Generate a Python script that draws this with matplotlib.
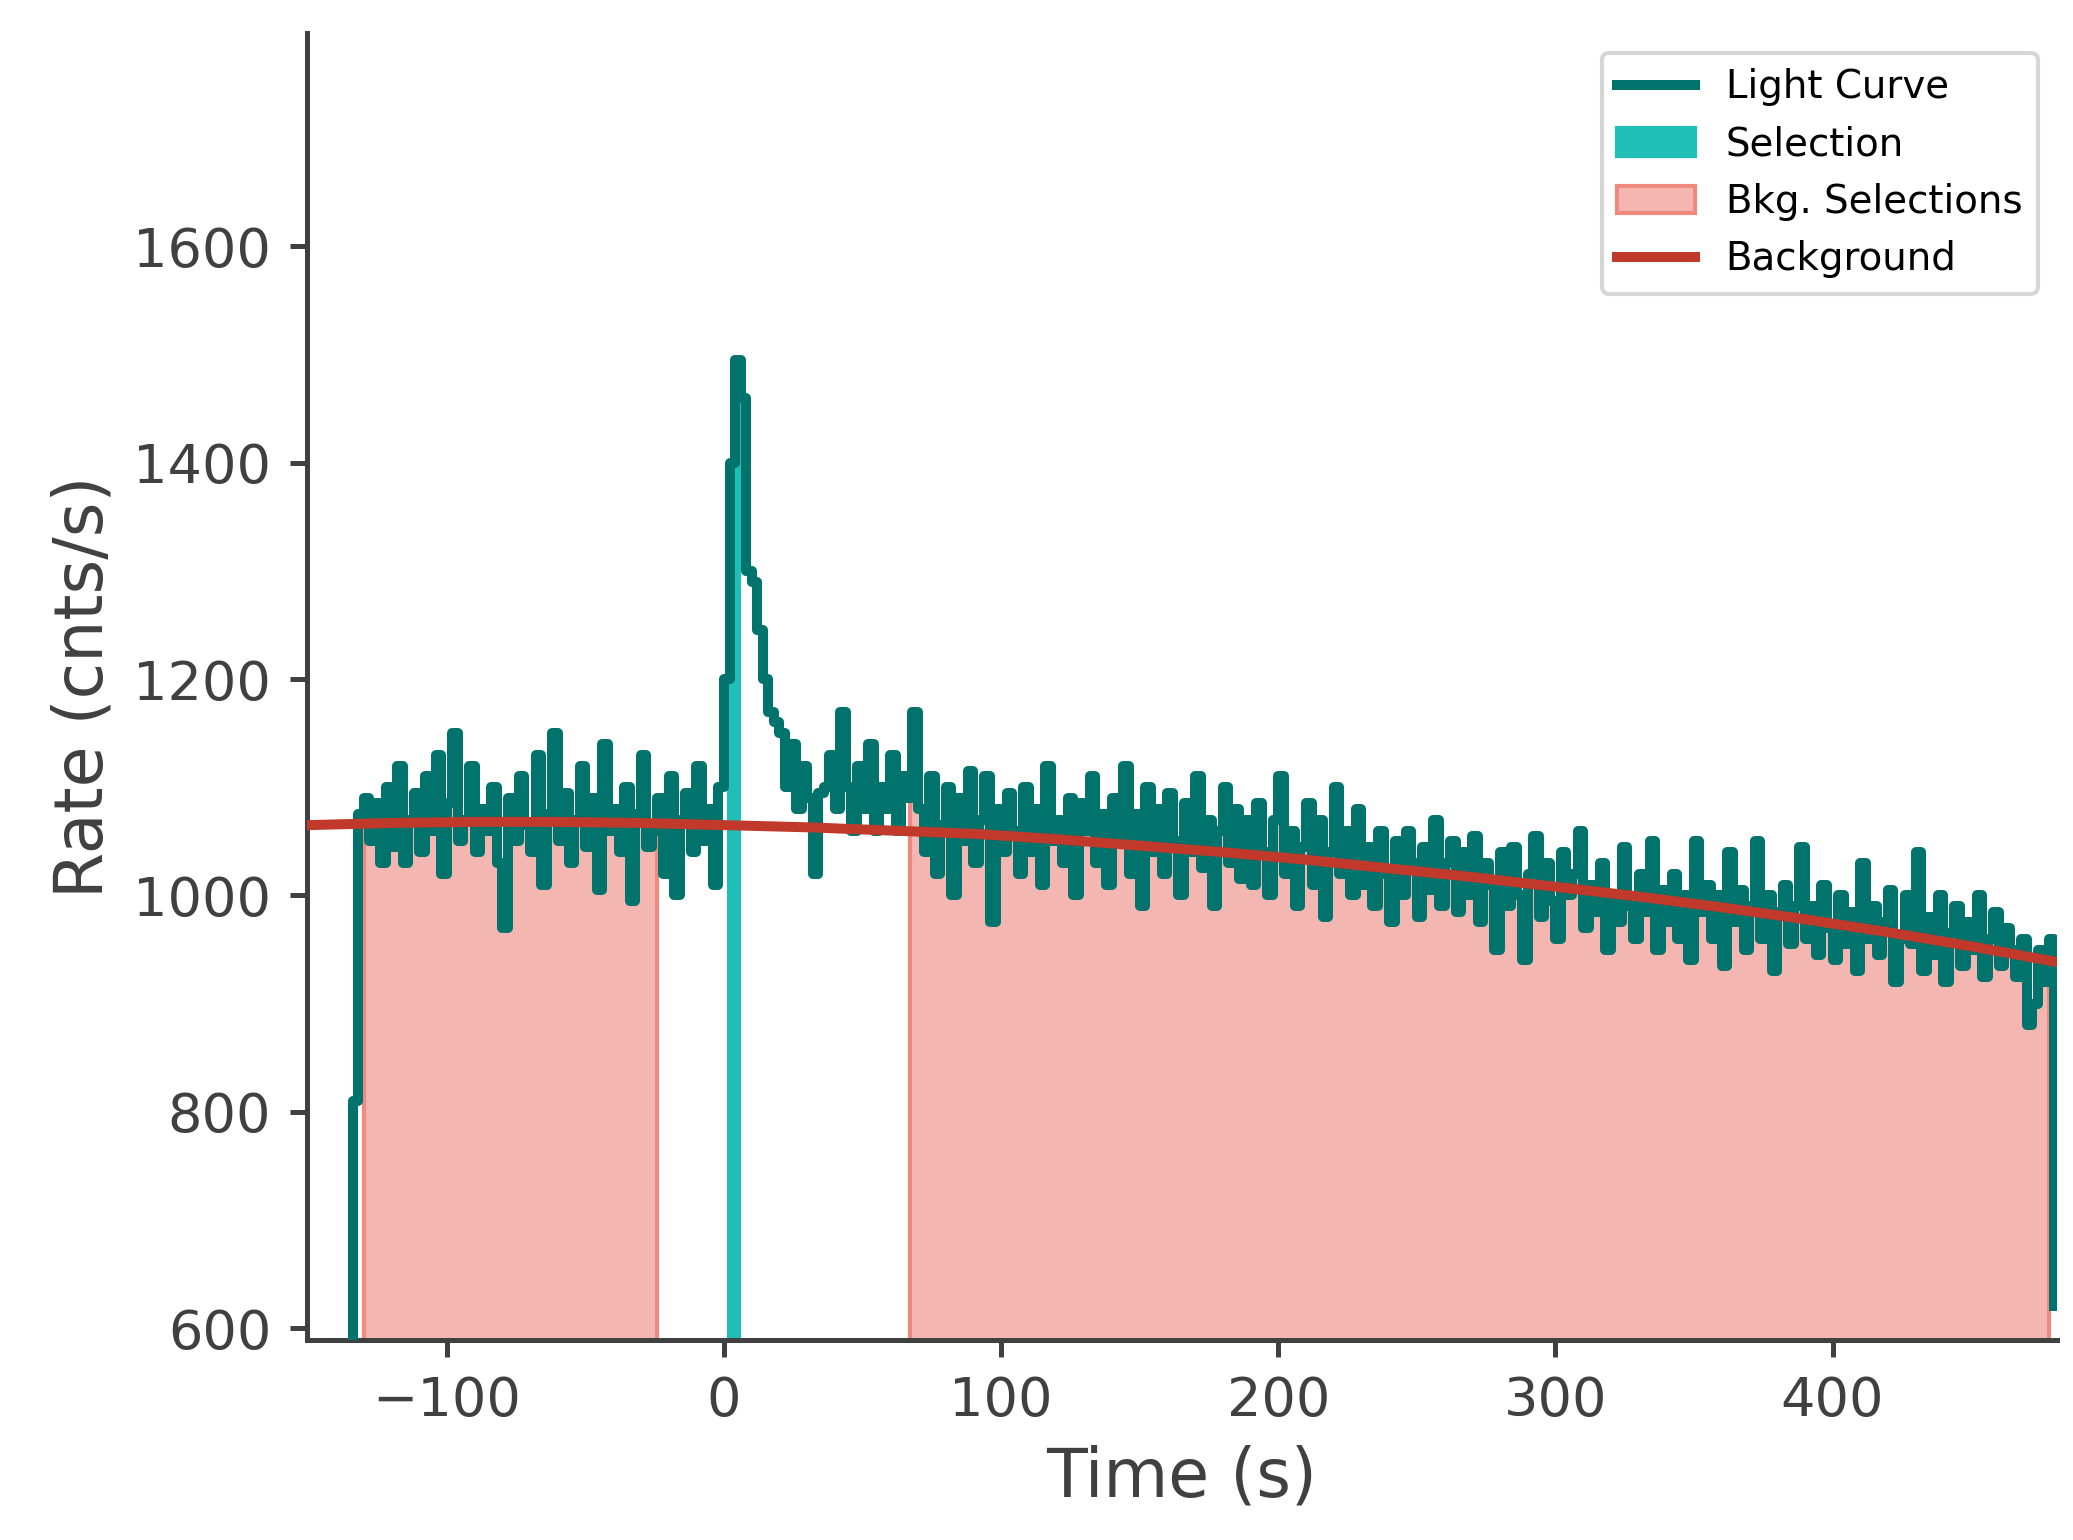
import numpy as np
import matplotlib
matplotlib.use("Agg")
import matplotlib.pyplot as plt

binw = 2.0
pre_start = -134
pre_vals = [570, 810, 1075,
 1090,1050,1085,1030,1100,1045,1120,1030,1070,1095,1040,1110,1060,1130,1020,1085,1150,1050,1070,1120,
 1040,1080,1060,1100,1030,970,1090,1050,1110,1065,1040,1130,1010,1075,1150,1050,1095,1030,1070,1120,
 1045,1090,1005,1140,1060,1080,1040,1100,995,1075,1130,1045,1060,1090,1020,1110,1000,1070,1095,1040,
 1120,1050,1080,1010,1100]
burst_start = 0
burst_vals = [1200,1400,1495,1460,1300,1290,1245,1200,1170,1160,1150,1100,1140,1080,1120,1090,1020,1095,
 1100,1130,1080,1170,1100,1060,1120,1080,1140,1060,1100,1080,1130,1060,1110,1090]
post_start = 68
post_vals = [1170,1080,1040,1110,1020,1065,1100,1000,1090,1050,1115,1030,1070,1110,975,1080,1040,1095,1060,1020,
 1100,1040,1080,1010,1120,1050,1070,1030,1090,1000,1085,1060,1110,1030,1075,1010,1090,1050,1120,1020,
 1075,990,1100,1040,1080,1020,1095,1050,1000,1085,1040,1110,1025,1070,990,1060,1100,1030,1080,1015,
 1070,1010,1085,1040,1000,1070,1110,1020,1060,990,1045,1085,1010,1070,980,1040,1100,1020,1060,1000,
 1080,1010,1045,990,1060,1020,975,1050,1000,1060,1030,980,1045,1005,1070,990,1030,1050,985,1040,
 1000,1055,975,1030,1010,950,1040,990,1045,1000,940,1020,1055,980,1030,995,960,1040,1000,1020,
 1060,970,1010,985,1030,950,1000,975,1045,990,960,1020,985,1050,950,1005,975,1020,960,1000,
 940,1050,985,1010,960,1000,935,1040,975,1005,950,990,1050,960,1000,930,985,1010,955,990,
 1045,960,990,945,1010,970,940,1000,955,985,930,1030,960,990,945,975,1005,920,960,1000,
 955,1040,930,980,945,1000,920,965,990,935,975,950,1000,925,960,985,935,970,950,925,
 960,880,900,950,920,960,620]

bkg_t = [-150,-120,-90,-60,-30,0,30,60,90,120,150,180,210,240,270,300,330,360,390,420,450,482]
bkg_v = [1065,1067,1068,1068,1067,1065,1063,1060,1057,1052,1046,1040,1033,1025,1017,1008,999,989,978,966,953,938]

src_range = (1, 6)
bkg_ranges = [(-130, -24), (67, 478)]

def seg_times(start, vals):
    return start + binw * np.arange(len(vals))

t = np.concatenate([seg_times(pre_start - binw, pre_vals), seg_times(burst_start, burst_vals), seg_times(post_start, post_vals)])
v = np.concatenate([pre_vals, burst_vals, post_vals]).astype(float)

lc_col = "#00736d"
W, H = 1555, 1155
fig = plt.figure(figsize=(2073/300, 1540/300), dpi=300)
ax = fig.add_axes([230/W, 1-1005/H, (1543-230)/W, (1005-25)/H])

for lo, hi in bkg_ranges:
    m = (t >= lo - binw) & (t <= hi)
    tt = np.clip(t[m], lo, hi)
    ax.fill_between(tt, v[m], 0, step="post", color="#f4b6b0", edgecolor="#ee8a80", lw=1.0, zorder=1)
m = (t >= src_range[0] - binw) & (t <= src_range[1])
ax.fill_between(np.clip(t[m], *src_range), v[m], 0, step="post", color="#1fbfb8", lw=0, zorder=2)
ax.step(t, v, where="post", color=lc_col, lw=2.4, zorder=3)
ax.plot(bkg_t, bkg_v, color="#c0392b", lw=2.4, zorder=4)

from matplotlib.lines import Line2D
from matplotlib.patches import Patch
handles = [Line2D([], [], color=lc_col, lw=2.4), Patch(color="#1fbfb8"),
           Patch(facecolor="#f4b6b0", edgecolor="#ee8a80"), Line2D([], [], color="#c0392b", lw=2.4)]
ax.legend(handles, ["Light Curve", "Selection", "Bkg. Selections", "Background"],
          loc="upper right", fontsize=9.3, frameon=True, fancybox=True)

ax.set_xlim(-150.6, 481)
ax.set_ylim(589, 1797)
ax.set_yticks([600, 800, 1000, 1200, 1400, 1600])
ax.set_xticks([-100, 0, 100, 200, 300, 400])
for s in ["top", "right"]:
    ax.spines[s].set_visible(False)
for s in ["left", "bottom"]:
    ax.spines[s].set_color("#404040")
    ax.spines[s].set_linewidth(1.2)
ax.tick_params(colors="#404040", labelsize=13, direction="out", width=1.2, length=4, pad=4.5)
ax.set_xlabel("Time (s)", fontsize=16, color="#404040")
ax.set_ylabel("Rate (cnts/s)", fontsize=16, color="#404040")
fig.savefig("out.png", dpi=300)
